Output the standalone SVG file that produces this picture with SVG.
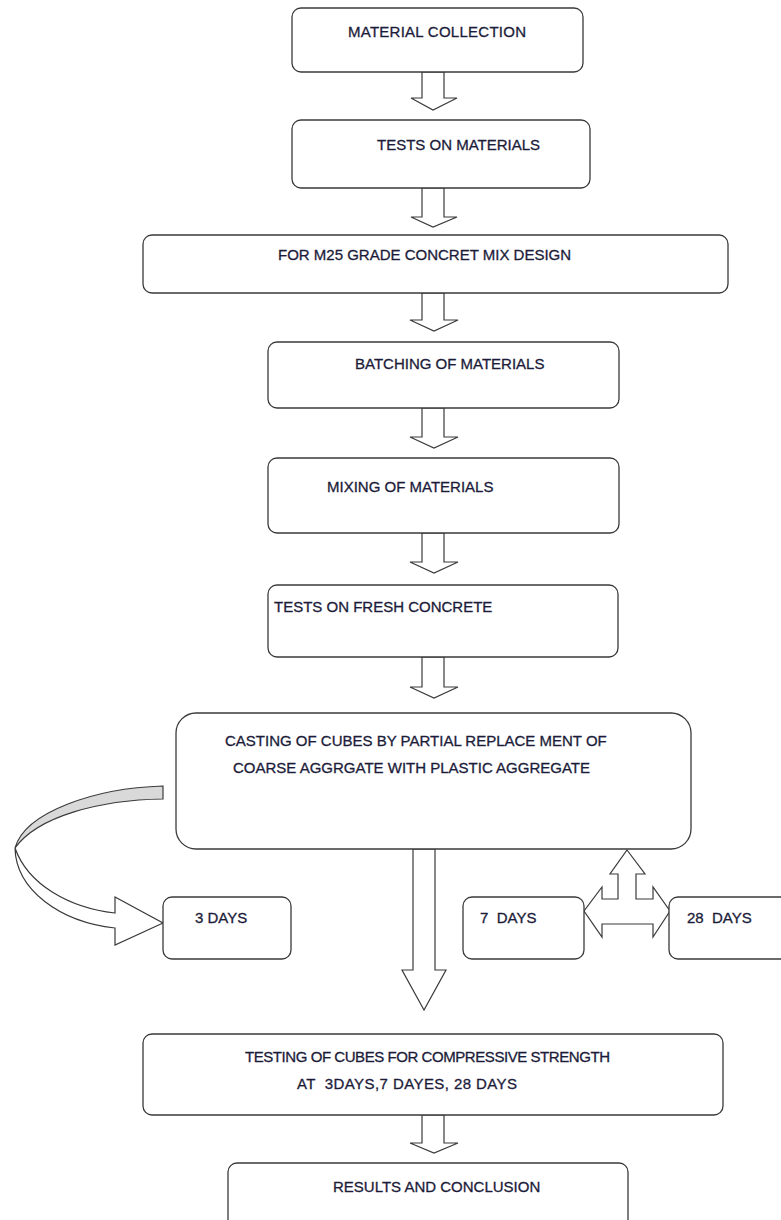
<svg xmlns="http://www.w3.org/2000/svg" width="781" height="1220" viewBox="0 0 781 1220">
<style>
.box{fill:#fff;stroke:#3a3a3a;stroke-width:1.3}
.arr{fill:#fff;stroke:#3a3a3a;stroke-width:1.2;stroke-linejoin:miter}
.t{font-family:"Liberation Sans",Arial,sans-serif;font-size:15px;fill:#1c1c3a;stroke:#1c1c3a;stroke-width:0.3}
</style>
<rect width="781" height="1220" fill="#fff"/>
<g id="connectors">
<polygon class="arr" points="422,72 444,72 444,98 457,98 433,110 411,98 422,98"/>
<polygon class="arr" points="422,188 444,188 444,217 457,217 433,227 411,217 422,217"/>
<polygon class="arr" points="422,293 444,293 444,320 458,320 434,331 410,320 422,320"/>
<polygon class="arr" points="422,408 444,408 444,437 458,437 434,448 410,437 422,437"/>
<polygon class="arr" points="422,533 444,533 444,562 458,562 434,573 410,562 422,562"/>
<polygon class="arr" points="422,657 444,657 444,687 458,687 434,698 410,687 422,687"/>
<polygon class="arr" points="413,849 435,849 435,970 446,970 424,1010 402,970 413,970"/>
<polygon class="arr" points="422,1115 444,1115 444,1143 458,1143 434,1153 410,1143 422,1143"/>
<polygon class="arr" points="627,850 645,874 636,874 636,899 653,899 653,887 670,911 653,937 653,924 602,924 602,937 584,911 602,887 602,899 618,899 618,874 610,874"/>
<path class="arr" style="fill:#d9d9d9" d="M163,786 L163,799 C100,800 38,816 15,848 C25,812 95,788 163,786 Z"/>
<path class="arr" d="M15,848 C16,890 60,922 115,928 L115,945 L163,923 L115,897 L115,913 C70,908 28,885 15,848 Z"/>
</g>
<g id="n1"><rect class="box" x="292" y="8" width="291" height="64" rx="9"/><text class="t" x="348" y="37" textLength="178">MATERIAL COLLECTION</text></g>
<g id="n2"><rect class="box" x="292" y="120" width="298" height="68" rx="9"/><text class="t" x="377" y="150">TESTS ON MATERIALS</text></g>
<g id="n3"><rect class="box" x="143" y="235" width="585" height="58" rx="9"/><text class="t" x="278" y="260">FOR M25 GRADE CONCRET MIX DESIGN</text></g>
<g id="n4"><rect class="box" x="268" y="342" width="351" height="66" rx="9"/><text class="t" x="355" y="369">BATCHING OF MATERIALS</text></g>
<g id="n5"><rect class="box" x="268" y="458" width="351" height="75" rx="9"/><text class="t" x="327" y="492">MIXING OF MATERIALS</text></g>
<g id="n6"><rect class="box" x="268" y="585" width="350" height="72" rx="9"/><text class="t" x="274" y="612">TESTS ON FRESH CONCRETE</text></g>
<g id="n7"><rect class="box" x="176" y="713" width="515" height="136" rx="20"/><text class="t" x="225" y="746">CASTING OF CUBES BY PARTIAL REPLACE MENT OF</text><text class="t" x="233" y="773">COARSE AGGRGATE WITH PLASTIC AGGREGATE</text></g>
<g id="n8"><rect class="box" x="163" y="897" width="128" height="62" rx="9"/><text class="t" x="195" y="923">3 DAYS</text></g>
<g id="n9"><rect class="box" x="463" y="897" width="121" height="62" rx="9"/><text class="t" x="480" y="923" xml:space="preserve">7  DAYS</text></g>
<g id="n10"><rect class="box" x="669" y="897" width="130" height="62" rx="9"/><text class="t" x="687" y="923" xml:space="preserve">28  DAYS</text></g>
<g id="n11"><rect class="box" x="143" y="1034" width="580" height="81" rx="9"/><text class="t" x="245" y="1062" textLength="365">TESTING OF CUBES FOR COMPRESSIVE STRENGTH</text><text class="t" x="297" y="1089" xml:space="preserve" textLength="220">AT  3DAYS,7 DAYES, 28 DAYS</text></g>
<g id="n12"><rect class="box" x="228" y="1163" width="400" height="70" rx="9"/><text class="t" x="333" y="1192">RESULTS AND CONCLUSION</text></g>
</svg>
